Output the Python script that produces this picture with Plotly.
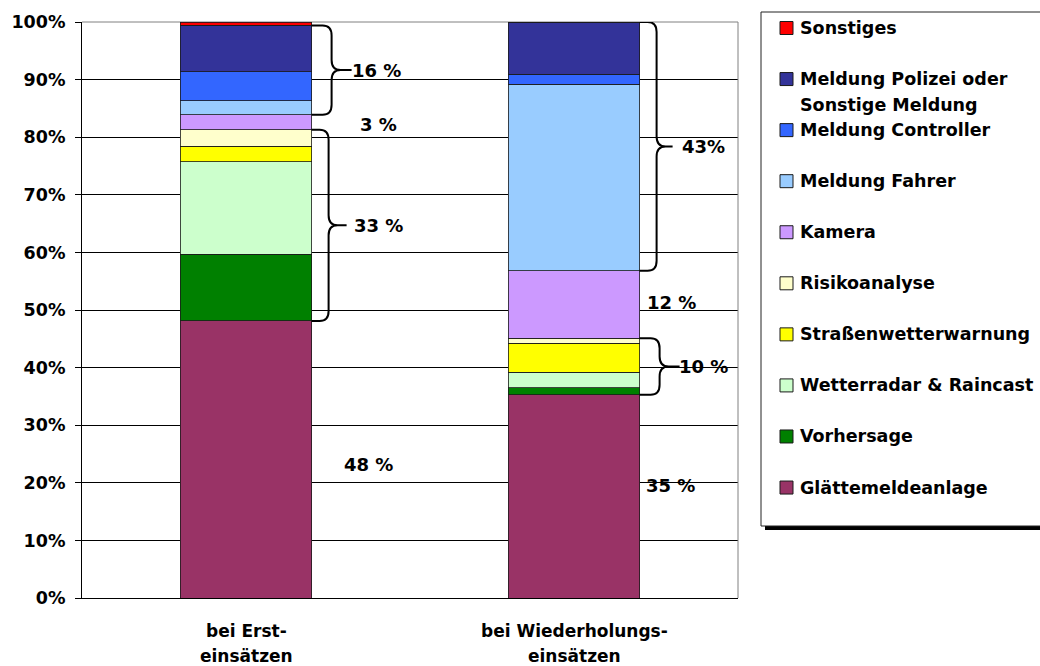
import plotly.graph_objects as go

# ---------------- data ----------------
categories = ["bei Erst-<br>einsätzen", "bei Wiederholungs-<br>einsätzen"]

series_names = [
    "Glättemeldeanlage",
    "Vorhersage",
    "Wetterradar & Raincast",
    "Straßenwetterwarnung",
    "Risikoanalyse",
    "Kamera",
    "Meldung Fahrer",
    "Meldung Controller",
    "Meldung Polizei oder<br>Sonstige Meldung",
    "Sonstiges",
]
series_colors = [
    "#993366", "#008000", "#CCFFCC", "#FFFF00", "#FFFFCC",
    "#CC99FF", "#99CCFF", "#3366FF", "#333399", "#FF0000",
]
erst_values = [48.1, 11.6, 16.0, 2.7, 2.9, 2.6, 2.4, 5.1, 8.0, 0.6]
wiederholung_values = [35.3, 1.2, 2.7, 5.0, 0.9, 11.7, 32.4, 1.75, 9.05, 0.0]

y_tick_values = [0, 10, 20, 30, 40, 50, 60, 70, 80, 90, 100]
y_tick_labels = ["0%", "10%", "20%", "30%", "40%", "50%", "60%", "70%", "80%", "90%", "100%"]

# brace groups (series index ranges, inclusive) and their labels
brace_groups = [(6, 8), (1, 4)]
erst_brace_labels = ["16 %", "33 %"]
wied_brace_labels = ["43%", "10 %"]
# single-value labels: (series index, label)
erst_single_labels = [(5, "3 %"), (0, "48 %")]
wied_single_labels = [(5, "12 %"), (0, "35 %")]

# ---------------- layout geometry ----------------
W, H = 1040, 666
PL, PR, PT, PB = 82, 738, 22, 598
PW, PH = PR - PL, PB - PT
BAR_WIDTH = 0.4
FONT = "DejaVu Sans"


def xp(px):
    return (px - PL) / PW


def yp(py):
    return (PB - py) / PH


def bar_right_px(i):
    return PL + (i + 0.5 + BAR_WIDTH / 2) / 2 * PW


def cum(values, upto):
    return sum(values[: upto + 1])


fig = go.Figure()
for k, name in enumerate(series_names):
    fig.add_trace(go.Bar(
        x=categories,
        y=[erst_values[k], wiederholung_values[k]],
        name=name.replace("<br>", " "),
        marker=dict(color=series_colors[k], line=dict(color="#1a1a1a", width=0.8)),
        width=BAR_WIDTH,
        showlegend=False,
        hoverinfo="name+y",
    ))

shapes = []
annotations = []

# plot frame top/right in gray
shapes.append(dict(type="line", xref="paper", yref="paper", x0=0, x1=1, y0=1, y1=1,
                   line=dict(color="#808080", width=1), layer="below"))
shapes.append(dict(type="line", xref="paper", yref="paper", x0=1, x1=1, y0=0, y1=1,
                   line=dict(color="#808080", width=1), layer="above"))

# braces
per_px_y = PH / 100.0
brace_geom = {
    (0, 0): (20, 40), (0, 1): (17, 35),
    (1, 0): (17, 33), (1, 1): (20, 40),
}


def brace(i, g, ytop, ybot):
    dv, dt = brace_geom[(i, g)]
    xr = bar_right_px(i)
    x0 = xp(xr)
    xv = xp(xr + dv)
    xvl = xp(xr + dv - 9)
    xvr = xp(xr + dv + 9)
    xt = xp(xr + dt)
    r = min(10 / per_px_y, (ytop - ybot) / 4.5)
    ym = (ytop + ybot) / 2
    path = (f"M {x0},{ytop} L {xvl},{ytop} Q {xv},{ytop} {xv},{ytop - r} "
            f"L {xv},{ym + r} Q {xv},{ym} {xvr},{ym} L {xt},{ym} "
            f"M {xvr},{ym} Q {xv},{ym} {xv},{ym - r} "
            f"L {xv},{ybot + r} Q {xv},{ybot} {xvl},{ybot} L {x0},{ybot}")
    shapes.append(dict(type="path", xref="paper", yref="y", path=path,
                       line=dict(color="black", width=2), layer="above"))
    return ym


label_font = dict(family=FONT, size=18, color="black", weight="bold")

bar_values = [erst_values, wiederholung_values]
brace_labels = [erst_brace_labels, wied_brace_labels]
label_offsets = {  # px offset from bar right edge for brace labels
    (0, 0): 40, (0, 1): 42, (1, 0): 42, (1, 1): 39,
}
for i in range(2):
    vals = bar_values[i]
    for g, (lo, hi) in enumerate(brace_groups):
        ytop = cum(vals, hi)
        ybot = cum(vals, lo - 1)
        ym = brace(i, g, ytop, ybot)
        annotations.append(dict(xref="paper", yref="y", x=xp(bar_right_px(i) + label_offsets[(i, g)] - 2),
                                y=ym, text=brace_labels[i][g], showarrow=False,
                                xanchor="left", yanchor="middle", font=label_font))

single_pos = {  # (bar, series): (px offset from bar right edge, y in data units)
    (0, 5): (48, 82.2), (0, 0): (32, 23.2),
    (1, 5): (7, 51.3), (1, 0): (6, 19.6),
}
for i, singles in enumerate([erst_single_labels, wied_single_labels]):
    for s, txt in singles:
        dx, yy = single_pos[(i, s)]
        annotations.append(dict(xref="paper", yref="y", x=xp(bar_right_px(i) + dx - 2), y=yy,
                                text=txt, showarrow=False, xanchor="left", yanchor="middle",
                                font=label_font))

# category labels (two lines each)
cat_font = dict(family=FONT, size=17, color="black", weight="bold")
for c in categories:
    for j, line in enumerate(c.split("<br>")):
        annotations.append(dict(xref="x", yref="paper", x=c, y=yp(631 + 25 * j), text=line,
                                showarrow=False, xanchor="center", yanchor="middle", font=cat_font))

# manual legend box
shapes.append(dict(type="rect", xref="paper", yref="paper", x0=xp(765), x1=xp(1056),
                   y0=yp(530), y1=yp(16), fillcolor="black", line=dict(width=0), layer="above"))
shapes.append(dict(type="rect", xref="paper", yref="paper", x0=xp(761), x1=xp(1052),
                   y0=yp(526), y1=yp(12), fillcolor="white", line=dict(color="#222222", width=1),
                   layer="above"))
leg_font = dict(family=FONT, size=17.5, color="black", weight="bold")
order = list(range(len(series_names)))[::-1]
for k, s in enumerate(order):
    yc = 28 + 51.06 * k
    shapes.append(dict(type="rect", xref="paper", yref="paper", x0=xp(780), x1=xp(793),
                       y0=yp(yc + 6.5), y1=yp(yc - 6.5), fillcolor=series_colors[s],
                       line=dict(color="#1a1a1a", width=1), layer="above"))
    for j, line in enumerate(series_names[s].split("<br>")):
        annotations.append(dict(xref="paper", yref="paper", x=xp(798), y=yp(yc + 26 * j),
                                text=line, showarrow=False, xanchor="left", yanchor="middle",
                                font=leg_font))

fig.update_layout(
    width=W, height=H,
    margin=dict(l=PL, r=W - PR, t=PT, b=H - PB, pad=0),
    barmode="stack",
    plot_bgcolor="white", paper_bgcolor="white",
    showlegend=False,
    shapes=shapes,
    annotations=annotations,
    xaxis=dict(range=[-0.5, 1.5], showline=True, linecolor="black", linewidth=1,
               showticklabels=False, ticks="", showgrid=False, zeroline=False),
    yaxis=dict(range=[0, 100], tickvals=y_tick_values, ticktext=y_tick_labels,
               ticks="outside", ticklen=6, tickcolor="black", tickwidth=1,
               showline=True, linecolor="black", linewidth=1,
               showgrid=True, gridcolor="black", gridwidth=1, zeroline=False,
               tickfont=dict(family=FONT, size=17.5, color="black", weight="bold"),
               ticklabelstandoff=6),
)

fig.write_html("out.html", config={"displayModeBar": False},
               post_script="document.body.style.margin='0';document.body.style.overflow='hidden';")
